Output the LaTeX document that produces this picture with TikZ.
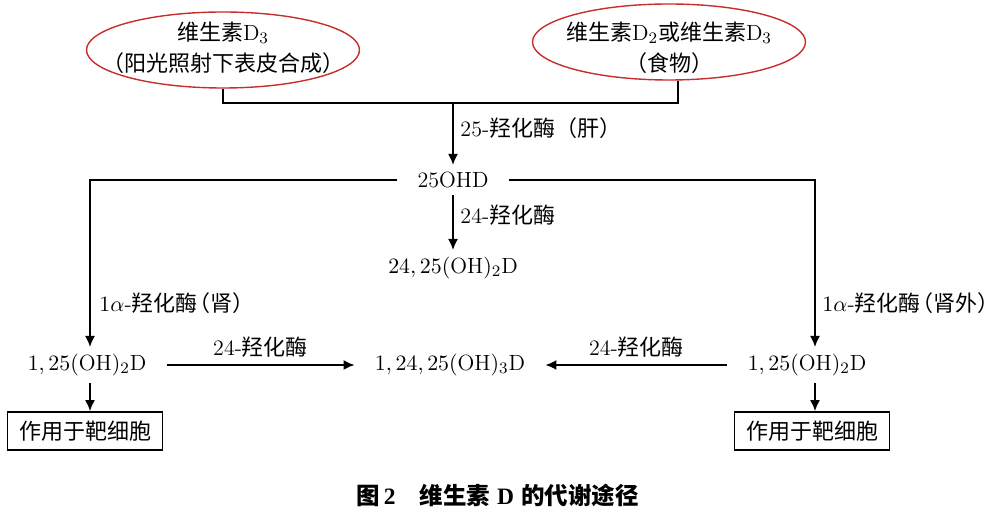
\documentclass[tikz,border=0pt]{standalone}
\usepackage{fontspec}
\newfontfamily\cjk{Noto Sans CJK SC}
\newfontfamily\capserif{Liberation Serif}
\newcommand{\hz}[1]{{\cjk #1}}
\definecolor{ovalred}{RGB}{200,45,45}
\usetikzlibrary{shapes.geometric,arrows.meta}
\begin{document}
\begin{tikzpicture}[x=0.5pt,y=-0.5pt,
  >={Latex[length=5.5pt,width=5pt]},
  every node/.style={font=\fontsize{11}{15.5}\selectfont},
  source/.style={ellipse,draw=ovalred,line width=0.7pt,minimum width=136.5pt,minimum height=38pt,inner sep=0pt},
  chem/.style={inner xsep=10pt},
  target/.style={draw,line width=0.9pt,minimum width=77.5pt,minimum height=19pt,inner sep=2pt},
  flow/.style={->,line width=0.8pt}]
\useasboundingbox (0,0) rectangle (1000,523);
% sources
\node[source,label={[align=center,yshift=1.25pt]center:\hz{维生素}D$_3$\\\hz{（阳光照射下表皮合成）}}] (sunD) at (223,50) {};
\node[source,label={[align=center,yshift=-2.75pt]center:\hz{维生素}D$_2$\hz{或维生素}D$_3$\\\hz{（食物）}}] (foodD) at (669,42) {};
\coordinate (merge) at (453,103);
\coordinate (lcol) at (90,0);
\coordinate (rcol) at (815,0);
% metabolites
\node[chem] (ohd) at (453,180) {25OHD};
\node[chem] (d2425) at (453,268) {$24,25(\mathrm{OH})_2\mathrm{D}$};
\node[chem] (l125) at (87,365) {$1,25(\mathrm{OH})_2\mathrm{D}$};
\node[chem] (c12425) at (450,365) {$1,24,25(\mathrm{OH})_3\mathrm{D}$};
\node[chem] (r125) at (807,365) {$1,25(\mathrm{OH})_2\mathrm{D}$};
\node[target] (lbox) at (85,431) {\hz{作用于靶细胞}};
\node[target] (rbox) at (812,431) {\hz{作用于靶细胞}};
% connectors
\draw[line width=0.8pt] (sunD.south) |- (merge) -| ([xshift=4.5pt]foodD.south);
\draw[flow] (merge) -- (ohd) node[pos=0.4,right] {25-\hz{羟化酶（肝）}};
\draw[flow] (ohd) -- (d2425) node[pos=0.36,right] {24-\hz{羟化酶}};
\draw[flow] (ohd.west) -| (lcol |- l125.north) node[pos=0.87,right,xshift=1pt] {$1\alpha$-\hz{羟化酶}\hspace{-0.4em}\hz{（肾）}};
\draw[flow] (ohd.east) -| (rcol |- r125.north) node[pos=0.87,right] {$1\alpha$-\hz{羟化酶}\hspace{-0.4em}\hz{（肾外）}};
\draw[flow] (l125) -- (c12425) node[midway,above] {24-\hz{羟化酶}};
\draw[flow] (r125) -- (c12425) node[midway,above] {24-\hz{羟化酶}};
\draw[flow] (lcol |- l125.south) -- (lcol |- lbox.north);
\draw[flow] (rcol |- r125.south) -- (rcol |- rbox.north);
% caption
\node[font=\fontsize{11.75}{14}\selectfont\bfseries] (caption) at (497.5,495) {\hz{图}\hspace{2pt}{\capserif 2}\hspace{12pt}\hz{维生素}\hspace{3.5pt}{\capserif D}\hspace{3.5pt}\hz{的代谢途径}};
\end{tikzpicture}
\end{document}
